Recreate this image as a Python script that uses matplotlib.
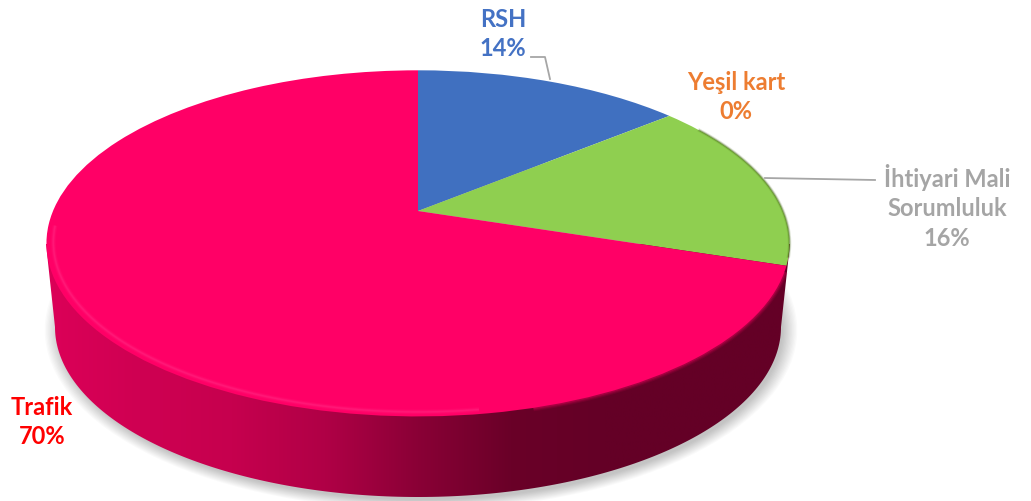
import numpy as np
import matplotlib
matplotlib.use('Agg')
import matplotlib.pyplot as plt
from matplotlib.patches import Ellipse, Polygon
from matplotlib.transforms import Transform

plt.rcParams['font.family'] = ['Lato', 'DejaVu Sans']

# Data
labels = ['RSH', 'Yeşil kart', 'İhtiyari Mali\nSorumluluk', 'Trafik']
values = [14, 0, 16, 70]

# Style
slice_colors = ['#4070c0', '#ed7d31', '#8fcf50', '#ff0066']
label_colors = ['#4472c4', '#ed7d31', '#a5a5a5', '#ff0000']
label_pos = [(503, 34), (736, 97), (947, 207), (42, 422)]
wall_colors = ['#dc0058', '#cf0052', '#c6004e', '#b00046', '#8a0036', '#6a0028', '#640026', '#640026', '#640026']

# Perspective of the disc, in pixels
CX, CY = 418, 212
A, B, K = 365, 167, 0.187


class PieProjection(Transform):
    input_dims = 2
    output_dims = 2
    is_affine = False

    def transform_non_affine(self, xy):
        xy = np.asarray(xy)
        w = 1 + K * xy[:, 1]
        return np.column_stack([CX + A * xy[:, 0] / w, CY - B * xy[:, 1] / w])


proj = PieProjection()

fig = plt.figure(figsize=(10.31, 5.02), dpi=100)
ax = fig.add_axes([0, 0, 1, 1])
wedges, _ = ax.pie(values, colors=slice_colors, startangle=90, counterclock=False,
                   wedgeprops={'linewidth': 0})
ax.set_aspect('auto')
ax.set_xlim(0, 1031)
ax.set_ylim(502, 0)
ax.axis('off')

# soft shadow under the disc
for i in range(12):
    ax.add_patch(Ellipse((421, 331), 2 * (362 + i * 1.3), 2 * (170 + i * 0.9),
                         color='#000000', alpha=0.02, lw=0, zorder=0.5))

# side wall with horizontal shading
t = np.radians(np.linspace(0, 180, 200))
bottom = np.column_stack([418 + 363 * np.cos(t), 328 + 170 * np.sin(t)])
wall = Polygon(np.vstack([[[790, 245]], bottom, [[46, 245]]]), closed=True,
               transform=ax.transData, fc='none', ec='none')
ax.add_patch(wall)
rgb = matplotlib.colors.to_rgba_array(wall_colors)[:, :3]
grad = np.array([[np.interp(np.linspace(0, 1, 600), np.linspace(0, 1, len(rgb)), rgb[:, c])
                  for c in range(3)]]).transpose(0, 2, 1)
im = ax.imshow(grad, extent=(46, 790, 498, 150), aspect='auto', zorder=1, interpolation='bilinear')
im.set_clip_path(wall)
ax.set_xlim(0, 1031)
ax.set_ylim(502, 0)

# top face
for w in wedges:
    w.set_transform(proj + ax.transData)
    w.set_zorder(2)
    w.set_clip_on(False)

# rim: dark blur on the right, light bevel on the left
th = np.radians(np.linspace(-20, -75, 80))
for lw, al in [(5, 0.10), (3.5, 0.15), (2, 0.25)]:
    ax.plot(np.cos(th), np.sin(th), color='#ff0066', lw=lw, alpha=al,
            transform=proj + ax.transData, zorder=2.5, solid_capstyle='butt')
th = np.radians(np.linspace(185, 278, 100))
for lw, al in [(3.5, 0.10), (2, 0.16), (1, 0.2)]:
    ax.plot(0.982 * np.cos(th), 0.982 * np.sin(th), color='#ff3c90', lw=lw, alpha=al,
            transform=proj + ax.transData, zorder=2.5, solid_capstyle='butt')
th = np.radians(np.linspace(-15, 32, 60))
for lw, al in [(2.5, 0.15), (1.2, 0.4)]:
    ax.plot(np.cos(th), np.sin(th), color='#3f5f10', lw=lw, alpha=al,
            transform=proj + ax.transData, zorder=2.5)

# leader lines
ax.plot([531, 545, 550], [58, 58, 80], color='#a6a6a6', lw=1.3, zorder=3)
ax.plot([765, 875], [179, 181], color='#a6a6a6', lw=1.3, zorder=3)

# labels
for name, v, c, (x, y) in zip(labels, values, label_colors, label_pos):
    ax.text(x, y, f'{name}\n{v}%', color=c, fontsize=17, fontweight='bold',
            ha='center', va='center', linespacing=1.36, zorder=4)

fig.savefig('out.png', dpi=100)
